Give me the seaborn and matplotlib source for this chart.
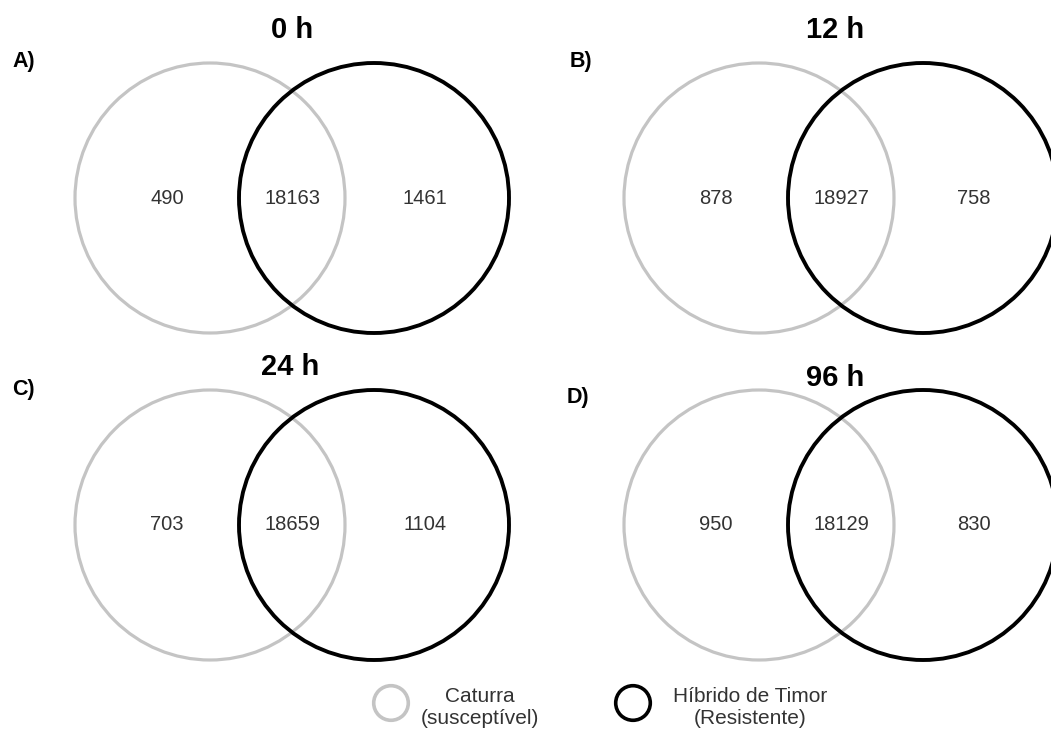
import numpy as np
import pandas as pd
import matplotlib.pyplot as plt
from matplotlib.patches import Circle
import seaborn as sns

sns.set_theme(style='white')
plt.rcParams['font.family'] = ['Liberation Sans', 'DejaVu Sans']

# data
times = ['0 h', '12 h', '24 h', '96 h']
panels = ['A)', 'B)', 'C)', 'D)']
only_caturra = [490, 878, 703, 950]
shared = [18163, 18927, 18659, 18129]
only_timor = [1461, 758, 1104, 830]
legend_names = ['Caturra\n(susceptível)', 'Híbrido de Timor\n(Resistente)']

# layout (pixel coords of the 1051x731 canvas)
gray_cx = [210, 759, 210, 759]
cy = [198, 198, 525, 525]
offset = 164
radius = 135
title_xy = [(292, 30), (835, 30), (290, 367), (835, 378)]
letter_xy = [(12, 62), (570, 62), (12, 389), (567, 398)]

GRAY = '#c4c4c4'

fig = plt.figure(figsize=(10.51, 7.31), dpi=100)
ax = fig.add_axes([0, 0, 1, 1])

for i in range(4):
    gx, y = gray_cx[i], cy[i]
    bx = gx + offset
    ax.add_patch(Circle((gx, y), radius, fill=False, ec=GRAY, lw=2.3))
    ax.add_patch(Circle((bx, y), radius, fill=False, ec='black', lw=2.8))
    ax.text(gx - 43, y, str(only_caturra[i]), ha='center', va='center',
            fontsize=14.5, color='#333333')
    ax.text((gx + bx) / 2, y, str(shared[i]), ha='center', va='center',
            fontsize=14.5, color='#333333')
    ax.text(bx + 51, y, str(only_timor[i]), ha='center', va='center',
            fontsize=14.5, color='#333333')
    ax.text(*title_xy[i], times[i], ha='center', va='center',
            fontsize=21, fontweight='bold', color='black')
    ax.text(*letter_xy[i], panels[i], ha='left', va='center',
            fontsize=15.5, fontweight='bold', color='black')

# legend
leg = pd.DataFrame({'x': [391, 633], 'y': [703, 703], 'name': legend_names})
sns.scatterplot(data=leg, x='x', y='y', hue='name',
                palette=[GRAY, 'black'], s=620, marker='o',
                linewidth=2.6, legend=False, ax=ax)
coll = ax.collections[-1]
coll.set_facecolor('none')
coll.set_edgecolor([GRAY, 'black'])
ax.text(480, 708, legend_names[0], ha='center', va='center',
        fontsize=15, color='#333333', linespacing=1.2)
ax.text(750, 708, legend_names[1], ha='center', va='center',
        fontsize=15, color='#333333', linespacing=1.2)

ax.set_xlim(0, 1051)
ax.set_ylim(731, 0)
ax.set_aspect('equal')
ax.axis('off')

fig.savefig('out.png', dpi=100)
